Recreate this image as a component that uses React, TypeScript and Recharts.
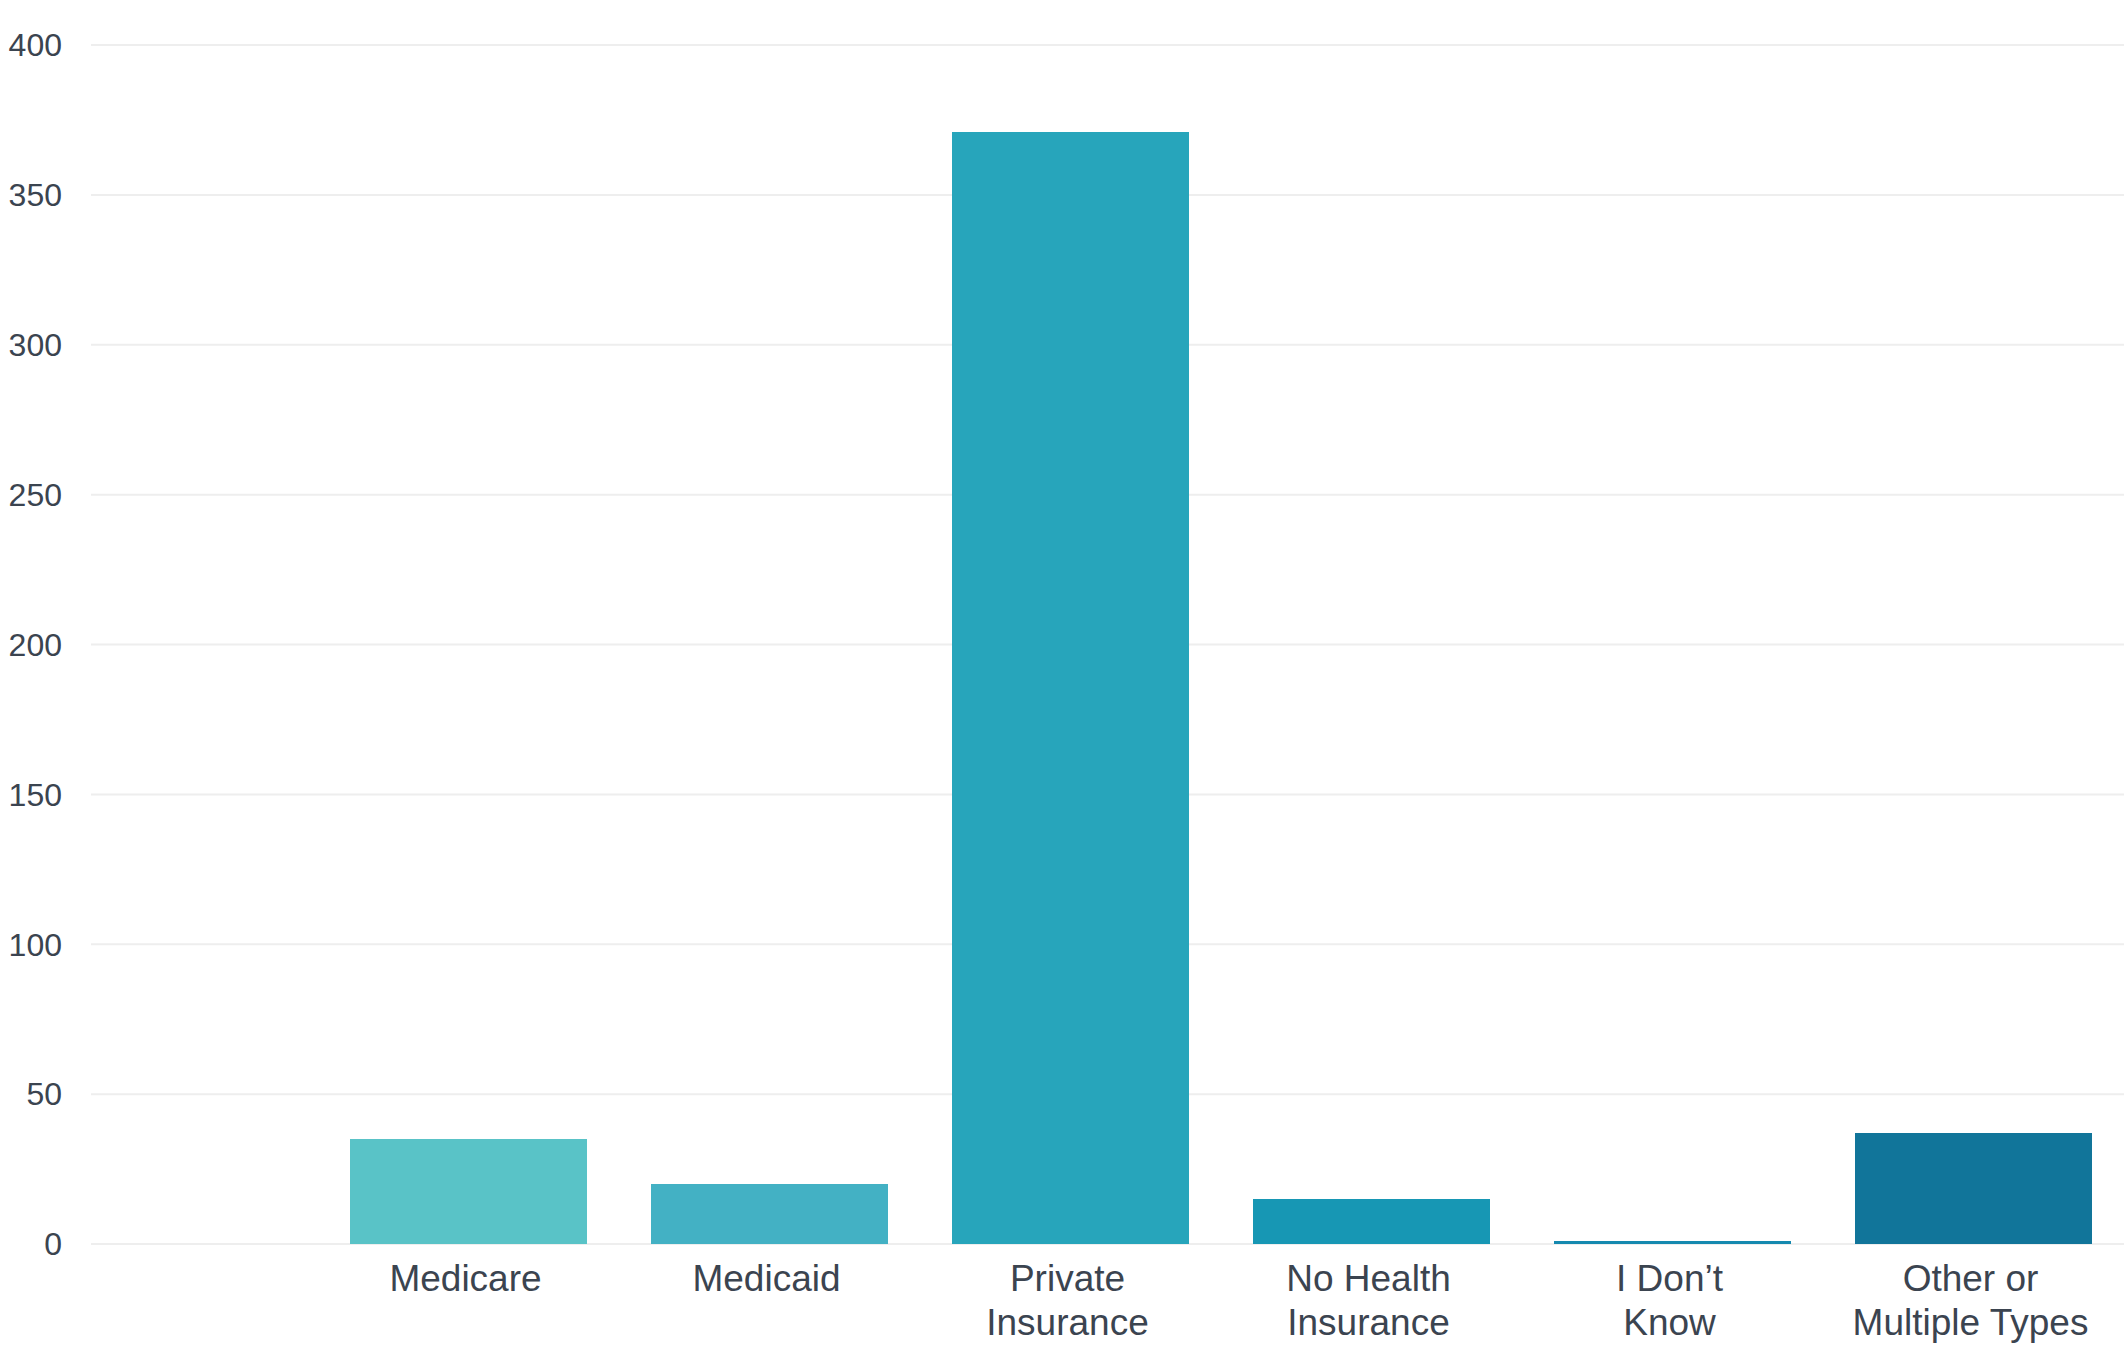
import { Bar, BarChart, CartesianGrid, Cell, XAxis, YAxis } from 'recharts';

const categories = [
  'Medicare',
  'Medicaid',
  'Private Insurance',
  'No Health Insurance',
  'I Don’t Know',
  'Other or Multiple Types',
];

const tickLines = [
  ['Medicare'],
  ['Medicaid'],
  ['Private', 'Insurance'],
  ['No Health', 'Insurance'],
  ['I Don’t', 'Know'],
  ['Other or', 'Multiple Types'],
];

const counts = [35, 20, 371, 15, 1, 37];

const barColors = ['#59c3c7', '#43b1c4', '#27a5bb', '#1797b4', '#1589af', '#11759a'];

const yTicks = [0, 50, 100, 150, 200, 250, 300, 350, 400];

const data = categories.map((name, i) => ({ name, count: counts[i] }));

const textColor = '#3b4450';
const font = '"Liberation Sans", Arial, sans-serif';

function CategoryTick(props: any) {
  const { x, y, index } = props;
  const lines = tickLines[index] ?? [String(props.payload?.value ?? '')];
  return (
    <text
      x={x}
      y={y}
      textAnchor="middle"
      fill={textColor}
      fontSize={37}
      fontFamily={font}
    >
      {lines.map((line, i) => (
        <tspan key={i} x={x - 3} dy={i === 0 ? 47 : 44}>
          {line}
        </tspan>
      ))}
    </text>
  );
}

export default function App() {
  return (
    <div style={{ position: 'absolute', left: 0, top: 0, background: '#fff' }}>
      <style>{'body{margin:0}'}</style>
      <BarChart
        width={2126}
        height={1355}
        data={data}
        margin={{ top: 45, right: 2, left: 0, bottom: 0 }}
        barCategoryGap={32}
      >
        <CartesianGrid stroke="#eeeeee" strokeWidth={2} vertical={false} />
        <XAxis
          dataKey="name"
          axisLine={false}
          tickLine={false}
          tickSize={0}
          tickMargin={0}
          height={111}
          interval={0}
          padding={{ left: 227, right: 0 }}
          tick={<CategoryTick />}
        />
        <YAxis
          domain={[0, 400]}
          ticks={yTicks}
          width={91}
          axisLine={false}
          tickLine={false}
          tickMargin={23}
          tick={{ fill: textColor, fontSize: 32, fontFamily: font }}
        />
        <Bar dataKey="count" isAnimationActive={false}>
          {data.map((d, i) => (
            <Cell key={d.name} fill={barColors[i]} />
          ))}
        </Bar>
      </BarChart>
    </div>
  );
}
